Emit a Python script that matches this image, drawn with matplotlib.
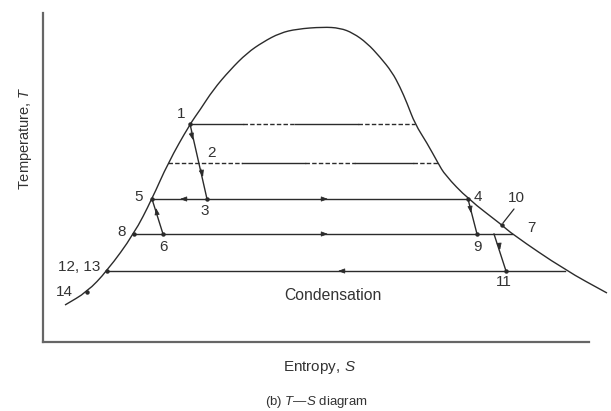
"""T-S diagram of a multi-pressure flash cycle, drawn as a schematic."""

import matplotlib

matplotlib.use("Agg")
import matplotlib.pyplot as plt
from matplotlib.patches import PathPatch
from matplotlib.path import Path

plt.rcParams.update(
    {
        "font.family": "Liberation Sans",
        "mathtext.fontset": "custom",
        "mathtext.it": "Liberation Sans:italic",
        "mathtext.rm": "Liberation Sans",
        "lines.scale_dashes": False,
    }
)

INK = "#2b2b2b"
TEXT = "#333333"

# saturation dome, (entropy, temperature) in schematic units
dome_s = [22, 44, 64, 91, 109, 125, 147, 157, 170, 187, 204, 220, 237, 254, 280, 297,
          310, 324, 337, 349, 357, 364, 372, 384, 395, 402, 425, 459, 469, 522, 564]
dome_t = [37, 50, 71, 108, 143, 179, 218, 232, 252, 272, 289, 300, 309, 313, 315, 314,
          309, 299, 285, 270, 255, 239, 218, 199, 179, 167, 143, 117, 108, 72, 49]

# constant-pressure lines across the dome: level, start, end
solid_levels = [143, 108, 71]
solid_start = [109, 91, 64]
solid_end = [425, 469, 522]

# upper two levels alternate between solid and dashed pieces
upper_pieces = [
    (218, 147, 200, "-"), (218, 200, 252, "--"), (218, 252, 315, "-"), (218, 315, 372, "--"),
    (179, 125, 199, "--"), (179, 199, 262, "-"), (179, 262, 312, "--"),
    (179, 312, 370, "-"), (179, 370, 395, "--"),
]

# expansion / compression legs: (s0, t0, s1, t1)
legs = [
    (147, 218, 164, 143),   # 1 -> 3
    (120, 108, 109, 143),   # 6 -> 5
    (425, 143, 434, 108),   # 4 -> 9
    (451, 108, 463, 71),    # -> 11
]

# arrow heads: (tail s, tail t, tip s, tip t)
arrows = [
    (148, 210, 150, 202), (158, 173, 160, 165),
    (114, 128, 113, 134), (427, 136, 428, 129), (456, 99, 457, 92),
    (144, 143, 137, 143), (278, 143, 285, 143),
    (278, 108, 285, 108), (302, 71, 295, 71),
]

state_s = [147, 164, 109, 120, 91, 425, 434, 459, 463, 64, 44]
state_t = [218, 143, 143, 108, 108, 143, 108, 117, 71, 71, 50]

labels = ["1", "2", "3", "4", "5", "6", "7", "8", "9", "10", "11", "12, 13", "14"]
label_s = [138, 168, 162, 435, 96, 120, 488, 79, 434, 473, 461, 36, 21]
label_t = [228, 189, 131, 145, 145, 95, 114, 110, 95, 144, 60, 75, 50]


def smooth_path(xs, ys):
    # quadratic segments between midpoints, using the points as control points
    pts = list(zip(xs, ys))
    verts = [pts[0]]
    codes = [Path.MOVETO]
    mids = [((a[0] + b[0]) / 2, (a[1] + b[1]) / 2) for a, b in zip(pts[:-1], pts[1:])]
    verts.append(mids[0])
    codes.append(Path.LINETO)
    for i in range(1, len(pts) - 1):
        verts += [pts[i], mids[i]]
        codes += [Path.CURVE3, Path.CURVE3]
    verts.append(pts[-1])
    codes.append(Path.LINETO)
    return Path(verts, codes)


fig = plt.figure(figsize=(6.11, 4.11), dpi=100)
W, H = 611, 411
ax = fig.add_axes([43 / W, (H - 342) / H, 546 / W, 329 / H])
ax.set_xlim(0, 546)
ax.set_ylim(0, 329)
ax.set_xticks([])
ax.set_yticks([])
for side in ("top", "right"):
    ax.spines[side].set_visible(False)
for side in ("left", "bottom"):
    ax.spines[side].set_color("#666666")
    ax.spines[side].set_linewidth(1.6)

ax.add_patch(PathPatch(smooth_path(dome_s, dome_t), fill=False, edgecolor=INK,
                       lw=1.0, clip_on=False))

for t, s0, s1 in zip(solid_levels, solid_start, solid_end):
    ax.plot([s0, s1], [t, t], color=INK, lw=1.0)

for t, s0, s1, style in upper_pieces:
    if style == "--":
        ax.plot([s0, s1], [t, t], color=INK, lw=1.0, dashes=(3.2, 1.6))
    else:
        ax.plot([s0, s1], [t, t], color=INK, lw=1.0)

for s0, t0, s1, t1 in legs:
    ax.plot([s0, s1], [t0, t1], color=INK, lw=1.0)

for s0, t0, s1, t1 in arrows:
    ax.annotate("", xy=(s1, t1), xytext=(s0, t0),
                arrowprops=dict(arrowstyle="-|>,head_length=0.4,head_width=0.15",
                                color=INK, lw=0.6, shrinkA=0, shrinkB=0))

ax.plot(state_s, state_t, "o", color=INK, ms=2.2, clip_on=False)

# pointer to state 10
ax.annotate("", xy=(460, 119), xytext=(471, 133),
            arrowprops=dict(arrowstyle="-", color=INK, lw=0.9, shrinkA=0, shrinkB=0))

for txt, s, t in zip(labels, label_s, label_t):
    ax.text(s, t, txt, fontsize=11, color=TEXT, ha="center", va="center")

ax.text(290, 47, "Condensation", fontsize=11.3, color=TEXT, ha="center", va="center")

fig.text(25 / W, 1 - 138 / H, "Temperature, $T$", rotation=90, fontsize=10.5,
         color=TEXT, ha="center", va="center")
fig.text(320 / W, 1 - 367 / H, "Entropy, $S$", fontsize=11, color=TEXT,
         ha="center", va="center")
fig.text(316 / W, 1 - 402 / H, "(b) $T$—$S$ diagram", fontsize=9.5, color=TEXT,
         ha="center", va="center")

fig.savefig("out.png", dpi=100)
